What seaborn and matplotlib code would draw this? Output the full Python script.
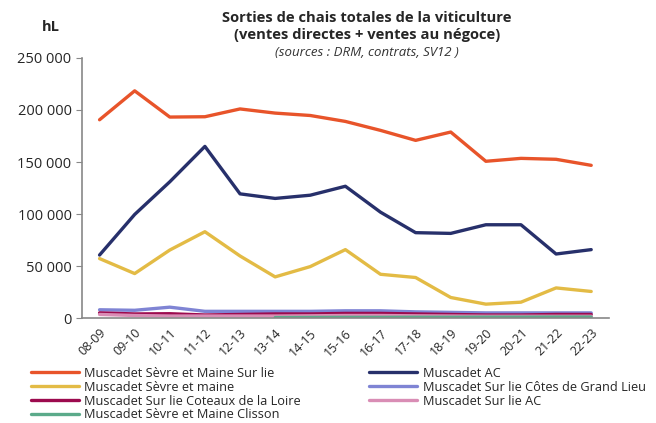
import numpy as np
import pandas as pd
import matplotlib
matplotlib.use("Agg")
import matplotlib.pyplot as plt
import seaborn as sns
from matplotlib.ticker import FuncFormatter, FixedLocator

# Campaigns
campagnes = ["08-09", "09-10", "10-11", "11-12", "12-13", "13-14", "14-15", "15-16",
             "16-17", "17-18", "18-19", "19-20", "20-21", "21-22", "22-23"]

sevre_maine_sur_lie = [190600, 218400, 193200, 193500, 201000, 197000, 194700, 189000,
                       180400, 170800, 178800, 150700, 153500, 152600, 146800]
muscadet_ac = [60600, 99600, 131000, 165000, 119400, 115000, 118100, 126700,
               101800, 82100, 81400, 89700, 89700, 61600, 65800]
sevre_maine = [57200, 42800, 65400, 83000, 59700, 39600, 49500, 65800,
               42100, 39000, 19800, 13400, 15300, 29000, 25600]
cotes_grand_lieu = [8000, 7500, 10500, 6500, 6500, 6500, 6500, 7000,
                    7000, 6000, 5500, 5000, 5000, 5000, 5000]
coteaux_loire = [5000, 4000, 4200, 3000, 3500, 4000, 4000, 4500,
                 4500, 4000, 3500, 3000, 3000, 3500, 3500]
sur_lie_ac = [3500, 2500, 2000, 2000, 2000, 2000, 2200, 2500,
              2500, 2200, 2000, 1800, 1800, 1800, 1800]
clisson = [np.nan, np.nan, np.nan, np.nan, np.nan, 500, 600, 700,
           700, 800, 800, 900, 900, 1000, 1000]

series = {
    "Muscadet Sèvre et Maine Sur lie": sevre_maine_sur_lie,
    "Muscadet AC": muscadet_ac,
    "Muscadet Sèvre et maine": sevre_maine,
    "Muscadet Sur lie Côtes de Grand Lieu": cotes_grand_lieu,
    "Muscadet Sur lie Coteaux de la Loire": coteaux_loire,
    "Muscadet Sur lie AC": sur_lie_ac,
    "Muscadet Sèvre et Maine Clisson": clisson,
}
couleurs = ["#E8542A", "#27306B", "#E3BB45", "#7F84D4", "#9C0A4E", "#D98DB5", "#5BAA8A"]

rows = []
for name, vals in series.items():
    for i, v in enumerate(vals):
        rows.append({"appellation": name, "x": i, "hL": v})
df = pd.DataFrame(rows).dropna()

sns.set_style("white")
plt.rcParams['font.family'] = ['Open Sans', 'DejaVu Sans']

fig = plt.figure(figsize=(6.56, 4.23), dpi=100)
ax = fig.add_axes([0.125, 0.248, 0.803, 0.615])

sns.lineplot(data=df, x="x", y="hL", hue="appellation", hue_order=list(series.keys()),
             palette=couleurs, linewidth=2.4, ax=ax, legend=True)

ax.set_xlim(-0.5, len(campagnes) - 0.5)
ax.set_ylim(0, 250000)
ax.set_yticks(np.arange(0, 250001, 50000))
ax.yaxis.set_major_formatter(FuncFormatter(lambda v, p: f"{int(v):,}".replace(",", " ")))
ax.set_xticks(range(len(campagnes)))
ax.set_xticklabels(campagnes, rotation=45, ha="right", rotation_mode="anchor", fontsize=9)
ax.xaxis.set_minor_locator(FixedLocator(np.arange(-0.5, len(campagnes), 1)))
ax.tick_params(axis="x", which="major", length=0, pad=6)
ax.tick_params(axis="x", which="minor", length=4, color="#888888", direction="out")
ax.tick_params(axis="y", length=4, color="#888888", direction="out", labelsize=10.5, left=True)
ax.set_xlabel("")
ax.set_ylabel("")
for s in ["top", "right"]:
    ax.spines[s].set_visible(False)
for s in ["left", "bottom"]:
    ax.spines[s].set_color("#888888")
    ax.spines[s].set_linewidth(1.2)

# row-wise legend order (matplotlib fills column by column)
handles, labels = ax.get_legend_handles_labels()
ordre = [0, 2, 4, 6, 1, 3, 5]
ax.get_legend().remove()
fig.legend([handles[i] for i in ordre], [labels[i] for i in ordre],
           loc="upper left", bbox_to_anchor=(0.047, 0.133), ncol=2, frameon=False,
           fontsize=9.2, handlelength=3.8, columnspacing=5.3, labelspacing=0.07,
           handletextpad=0.4, borderpad=0, borderaxespad=0)

fig.text(0.559, 0.957, "Sorties de chais totales de la viticulture", ha="center", va="center",
         fontsize=10.6, fontweight="bold")
fig.text(0.559, 0.917, "(ventes directes + ventes au négoce)", ha="center", va="center",
         fontsize=10.6, fontweight="bold")
fig.text(0.559, 0.877, "(sources : DRM, contrats, SV12 )", ha="center", va="center",
         fontsize=9.5, style="italic", color="#333333")
fig.text(0.078, 0.935, "hL", ha="center", va="center", fontsize=10.5, fontweight="bold")

fig.savefig("out.png", dpi=100)
